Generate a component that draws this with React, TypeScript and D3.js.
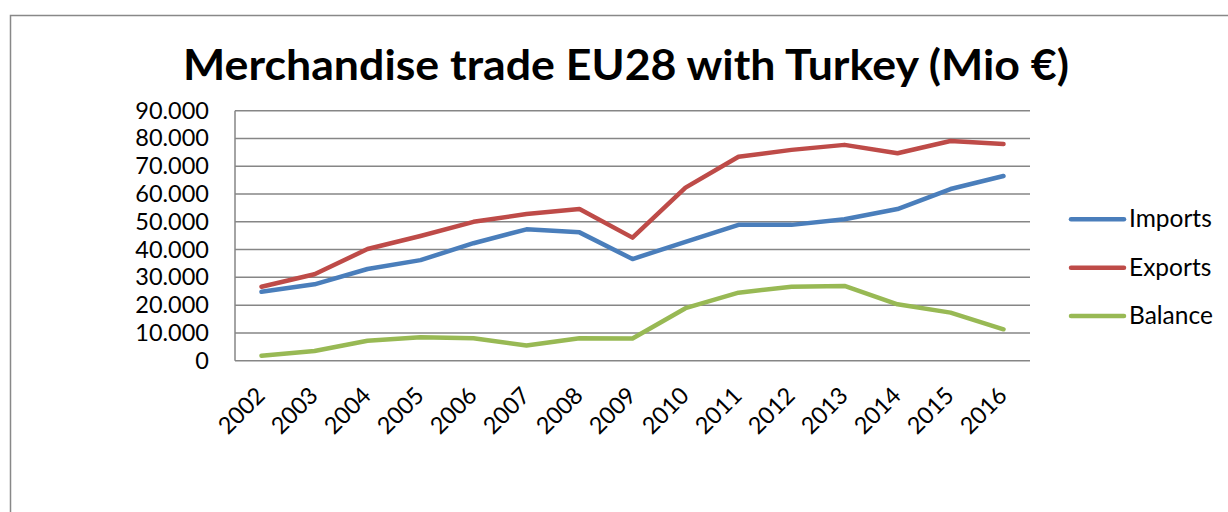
import React, { useEffect, useRef } from 'react'
import * as d3 from 'd3'

const years = ['2002', '2003', '2004', '2005', '2006', '2007', '2008', '2009', '2010', '2011', '2012', '2013', '2014', '2015', '2016']
const imports = [24800, 27500, 33000, 36200, 42300, 47300, 46200, 36600, 42800, 48900, 48900, 50900, 54600, 61800, 66500]
const exports = [26600, 31100, 40200, 44900, 50000, 52800, 54600, 44300, 62300, 73400, 75900, 77700, 74700, 79100, 78000]
const balance = [1800, 3500, 7200, 8400, 8100, 5500, 8100, 8000, 18900, 24500, 26600, 26900, 20300, 17300, 11300]
const seriesNames = ['Imports', 'Exports', 'Balance']
const seriesColors = ['#4a7ebb', '#be4b48', '#98b954']
const yTicks = [0, 10000, 20000, 30000, 40000, 50000, 60000, 70000, 80000, 90000]

export default function App() {
    const ref = useRef<SVGSVGElement | null>(null)

    const width = 1228
    const height = 512
    const font = 'Lato, "Open Sans", sans-serif'

    function draw() {
        const svg = d3.select(ref.current)
        svg.selectAll('*').remove()

        // chart frame
        svg.append('rect')
            .attr('x', 10.5).attr('y', 15.5)
            .attr('width', width).attr('height', height)
            .attr('fill', 'white')
            .attr('stroke', '#888').attr('stroke-width', 1.5)

        svg.append('text')
            .attr('x', 626).attr('y', 80)
            .attr('text-anchor', 'middle')
            .attr('font-family', font)
            .attr('font-weight', 'bold')
            .attr('font-size', 42)
            .attr('textLength', 886)
            .attr('lengthAdjust', 'spacingAndGlyphs')
            .text('Merchandise trade EU28 with Turkey (Mio €)')

        const x = d3.scaleBand().domain(years).range([235, 1030])
        const y = d3.scaleLinear().domain([0, 90000]).range([360.7, 110.7])

        const g = svg.append('g')

        // gridlines
        g.selectAll('line.grid')
            .data(yTicks)
            .enter().append('line')
            .attr('class', 'grid')
            .attr('x1', 235).attr('x2', 1030)
            .attr('y1', d => y(d)).attr('y2', d => y(d))
            .attr('stroke', '#868686').attr('stroke-width', 1.5)

        g.append('line')
            .attr('x1', 235).attr('x2', 235)
            .attr('y1', y(0)).attr('y2', y(90000))
            .attr('stroke', '#868686').attr('stroke-width', 1.5)

        const fmt = (v: number) => v === 0 ? '0' : d3.format(',')(v).replace(/,/g, '.')

        g.selectAll('text.ytick')
            .data(yTicks)
            .enter().append('text')
            .attr('class', 'ytick')
            .attr('x', 209).attr('y', d => y(d) + 8)
            .attr('text-anchor', 'end')
            .attr('font-family', font)
            .attr('font-size', 23.5)
            .text(d => fmt(d))

        g.selectAll('text.xtick')
            .data(years)
            .enter().append('text')
            .attr('class', 'xtick')
            .attr('text-anchor', 'end')
            .attr('font-family', font)
            .attr('font-size', 23.5)
            .attr('transform', d => 'translate(' + ((x(d) as number) + x.bandwidth() / 2 + 5) + ',' + 397 + ') rotate(-45)')
            .text(d => d)

        const allSeries = [imports, exports, balance]
        const line = d3.line<number>()
            .x((d, i) => (x(years[i]) as number) + x.bandwidth() / 2)
            .y(d => y(d))

        allSeries.forEach((s, k) => {
            g.append('path')
                .datum(s)
                .attr('d', line)
                .attr('fill', 'none')
                .attr('stroke', seriesColors[k])
                .attr('stroke-width', 4.5)
                .attr('stroke-linejoin', 'round')
                .attr('stroke-linecap', 'round')
        })

        // legend
        const legend = svg.append('g')
        seriesNames.forEach((name, k) => {
            const ly = 219.3 + k * 48.4
            legend.append('line')
                .attr('x1', 1071).attr('x2', 1124)
                .attr('y1', ly).attr('y2', ly)
                .attr('stroke', seriesColors[k])
                .attr('stroke-width', 4.5)
                .attr('stroke-linecap', 'round')
            legend.append('text')
                .attr('x', 1129).attr('y', ly + 8)
                .attr('font-family', font)
                .attr('font-size', 24.5)
                .text(name)
        })
    }

    useEffect(() => {
        draw()
    }, [])

    return (
        <svg ref={ref} width={width} height={height}
            style={{ position: 'absolute', left: 0, top: 0, background: 'white' }} />
    )
}
